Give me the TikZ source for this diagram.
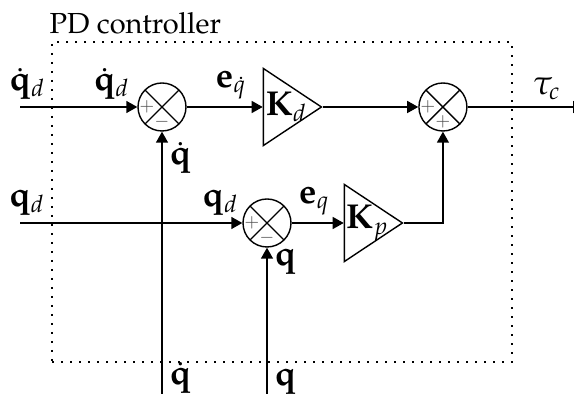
\documentclass[tikz,border=0pt]{standalone}
\usepackage[T1]{fontenc}
\usepackage{mathpazo}
\usepackage{amsmath}
\usetikzlibrary{arrows.meta,positioning,shapes.geometric}

\begin{document}
\begin{tikzpicture}[
  font=\LARGE,
  line width=0.7pt,
  sum/.style={circle, draw, minimum size=24pt, inner sep=0pt,
    path picture={\draw (path picture bounding box.north west) -- (path picture bounding box.south east)
      (path picture bounding box.south west) -- (path picture bounding box.north east);}},
  sgn/.style={font=\small, inner sep=0pt, text=black!70},
  gain/.style={draw, isosceles triangle, isosceles triangle stretches,
    minimum width=38.5pt, minimum height=29pt, inner sep=0pt},
  pdbox/.style={draw, line width=1pt, dash pattern=on 0.9pt off 3.6pt, inner sep=0pt},
  arrow/.style={-{Triangle[length=5.5pt,width=6pt]}}
]
  \useasboundingbox (0,0) rectangle (287pt,-197pt);
  \node[pdbox, minimum width=230pt, minimum height=160pt] (pd) at (141pt,-101pt) {};
  \node[anchor=base west, inner sep=0pt, font=\fontsize{14.5}{17}\selectfont] (title)
    at ([xshift=-1pt,yshift=3.5pt]pd.north west) {PD controller};

  % derivative branch
  \node[sum] (s1) at (81pt,-53.5pt) {};
  \node[gain, right=38pt of s1, label={[xshift=1pt]center:$\mathbf{K}_d$}] (kd) {};
  \node[sum, right=47.5pt of kd] (s2) {};
  % proportional branch
  \node[sum] (s3) at (133.5pt,-111.5pt) {};
  \node[gain, right=26pt of s3, label={[xshift=1pt]center:$\mathbf{K}_p$}] (kp) {};

  \foreach \s/\w/\b in {s1/+/-, s2/+/+, s3/+/-} {
    \node[sgn] at ([xshift=-7.5pt]\s.center) {$\w$};
    \node[sgn] at ([yshift=-7.5pt]\s.center) {$\b$};
  }

  \coordinate (in1) at (10pt,-53.5pt);
  \coordinate (in2) at (10pt,-111.5pt);
  \coordinate (out) at (292pt,-53.5pt);
  \coordinate (fb1) at (s1 |- 0,-197pt);
  \coordinate (fb2) at (s3 |- 0,-197pt);

  \draw[arrow] (in1) -- node[pos=0.06, above] {$\dot{\mathbf{q}}_d$}
    node[pos=0.78, above] {$\dot{\mathbf{q}}_d$} (s1.west);
  \draw[arrow] (s1.east) -- node[pos=0.58, above] {$\mathbf{e}_{\dot{q}}$} (kd.west);
  \draw[arrow] (kd.east) -- (s2.west);
  \draw[arrow] (s2.east) -- node[pos=0.68, above] {$\tau_c$} (out);

  \draw[arrow] (in2) -- node[pos=0.03, above] {$\mathbf{q}_d$}
    node[pos=0.9, above] {$\mathbf{q}_d$} (s3.west);
  \draw[arrow] (s3.east) -- node[pos=0.43, above] {$\mathbf{e}_q$} (kp.west);
  \draw[arrow] (kp.east) -| (s2.south);

  \draw[arrow] (fb1) -- node[pos=0.06, right] {$\dot{\mathbf{q}}$}
    node[pos=0.9, right] {$\dot{\mathbf{q}}$} (s1.south);
  \draw[arrow] (fb2) -- node[pos=0.085, right] {$\mathbf{q}$}
    node[pos=0.9, right] {$\mathbf{q}$} (s3.south);
\end{tikzpicture}
\end{document}
